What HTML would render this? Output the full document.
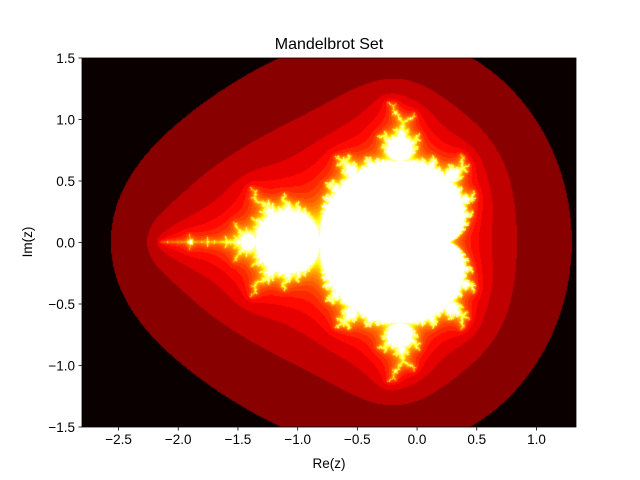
<!DOCTYPE html>
<html><head><meta charset="utf-8">
<style>
html,body{margin:0;padding:0;background:#fff;width:640px;height:480px;overflow:hidden;font-family:"Liberation Sans",sans-serif;}
#root{position:relative;width:640px;height:480px;}
canvas{position:absolute;left:82px;top:58px;}
svg{position:absolute;left:0;top:0;}
</style></head>
<body>
<div id="root">
<canvas id="img" width="494" height="369"></canvas>
<svg id="axes" width="640" height="480">
<text x="329" y="49" font-size="16" text-anchor="middle" fill="#000">Mandelbrot Set</text>
<text x="329" y="468" font-size="13.5" text-anchor="middle" fill="#000">Re(z)</text>
<text x="32" y="242" font-size="13.5" text-anchor="middle" fill="#000" transform="rotate(-90 32 242)">Im(z)</text>
</svg>
</div>
<script>
const xTicks = [-2.5, -2.0, -1.5, -1.0, -0.5, 0.0, 0.5, 1.0];
const yTicks = [-1.5, -1.0, -0.5, 0.0, 0.5, 1.0, 1.5];
const xDomain = [-2.806, 1.331];
const yDomain = [-1.5, 1.5];
const maxIter = 70;
const colorSpan = 28;
const escapeRadius = 8.5;

const L = 82, T = 58, W = 494, H = 369;
const sx = v => L + (v - xDomain[0]) / (xDomain[1] - xDomain[0]) * W;
const sy = v => T + (yDomain[1] - v) / (yDomain[1] - yDomain[0]) * H;
// complex-plane mapping of the rendered fractal (as in the source image)
const cRe = px => (px - 416) / 128;
const cIm = py => (242 - py) / 125;

function hot(x) {
  const r = Math.min(1, 0.0416 + 0.9584 * x / 0.365079);
  const g = Math.max(0, Math.min(1, (x - 0.365079) / (0.746032 - 0.365079)));
  const b = Math.max(0, Math.min(1, (x - 0.746032) / (1 - 0.746032)));
  return [r * 255, g * 255, b * 255];
}

const cv = document.getElementById('img');
const ctx = cv.getContext('2d');
const im = ctx.createImageData(W, H);
const nMin = 3;
for (let j = 0; j < H; j++) {
  for (let i = 0; i < W; i++) {
    const cr = cRe(L + i + 0.5), ci = cIm(T + j + 0.5);
    let zr = 0, zi = 0, n = -1;
    for (let k = 1; k <= maxIter; k++) {
      const t = zr * zr - zi * zi + cr;
      zi = 2 * zr * zi + ci; zr = t;
      if (zr * zr + zi * zi > escapeRadius * escapeRadius) { n = k; break; }
    }
    let x;
    if (n < 0) x = 1;
    else x = Math.min(0.88, Math.sqrt(Math.max(0, (n - nMin) / colorSpan)));
    const c = hot(x);
    const p = (j * W + i) * 4;
    im.data[p] = c[0]; im.data[p + 1] = c[1]; im.data[p + 2] = c[2]; im.data[p + 3] = 255;
  }
}
ctx.putImageData(im, 0, 0);

const svg = document.getElementById('axes');
const NS = 'http://www.w3.org/2000/svg';
const frame = document.createElementNS(NS, 'rect');
frame.setAttribute('x', L); frame.setAttribute('y', T);
frame.setAttribute('width', W); frame.setAttribute('height', H);
frame.setAttribute('fill', 'none'); frame.setAttribute('stroke', '#000'); frame.setAttribute('stroke-width', '0.8');


svg.appendChild(frame);

const fmt = v => (v < 0 ? '\u2212' : '') + Math.abs(v).toFixed(1);
xTicks.forEach(v => {
  const x = sx(v);
  const ln = document.createElementNS(NS, 'line');
  ln.setAttribute('x1', x); ln.setAttribute('x2', x);
  ln.setAttribute('y1', T + H); ln.setAttribute('y2', T + H + 3.5);
  ln.setAttribute('stroke', '#000'); ln.setAttribute('stroke-width', '0.8');
  
  
  svg.appendChild(ln);
  const tx = document.createElementNS(NS, 'text');
  tx.setAttribute('x', x); tx.setAttribute('y', T + H + 17);
  tx.setAttribute('font-size', '13.5'); tx.setAttribute('text-anchor', 'middle');
  tx.textContent = fmt(v);
  
  
  svg.appendChild(tx);
});
yTicks.forEach(v => {
  const y = sy(v);
  const ln = document.createElementNS(NS, 'line');
  ln.setAttribute('x1', L - 3.5); ln.setAttribute('x2', L);
  ln.setAttribute('y1', y); ln.setAttribute('y2', y);
  ln.setAttribute('stroke', '#000'); ln.setAttribute('stroke-width', '0.8');
  
  
  svg.appendChild(ln);
  const tx = document.createElementNS(NS, 'text');
  tx.setAttribute('x', L - 7); tx.setAttribute('y', y + 5);
  tx.setAttribute('font-size', '13.5'); tx.setAttribute('text-anchor', 'end');
  tx.textContent = fmt(v);
  
  
  svg.appendChild(tx);
});
</script>
</body></html>
